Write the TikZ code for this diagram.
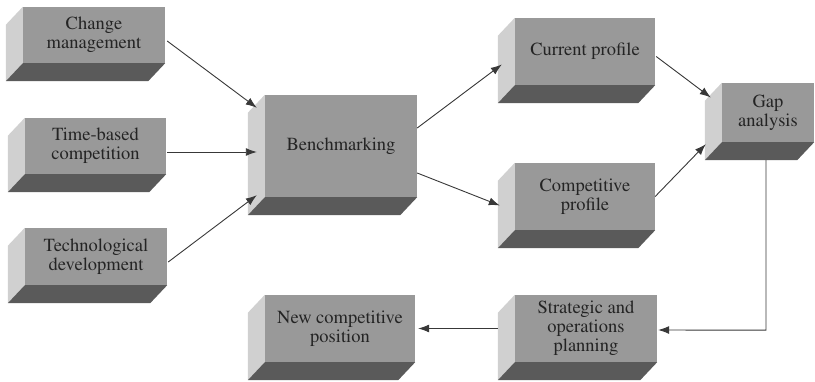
\documentclass[tikz,border=0pt]{standalone}
\usepackage[T1]{fontenc}
\usepackage{mathptmx}
\usetikzlibrary{arrows.meta,calc}

\definecolor{frontgray}{HTML}{999999}
\definecolor{sidegray}{HTML}{D0D0D0}
\definecolor{basegray}{HTML}{5A5A5A}
\definecolor{inkgray}{HTML}{242424}
\definecolor{linegray}{HTML}{383838}

% depth of the extruded block faces (towards lower left)
\newcommand\dpx{-17}
\newcommand\dpy{18}

% side and base faces of a block whose front face is node #1
\newcommand\extrudeblock[1]{%
  \fill[sidegray] (#1.north west) -- ($(#1.north west)+(\dpx,\dpy)$)
    -- ($(#1.south west)+(\dpx,\dpy)$) -- (#1.south west) -- cycle;
  \fill[basegray] (#1.south west) -- (#1.south east)
    -- ($(#1.south east)+(\dpx,\dpy)$) -- ($(#1.south west)+(\dpx,\dpy)$) -- cycle;
}

\tikzset{
  face/.style={fill=frontgray, draw=none, inner sep=2pt, align=center,
    text=inkgray, font=\rmfamily\fontsize{18.5}{18.8}\selectfont},
  flow/.style={draw=linegray, line width=0.9pt,
    -{Latex[length=11pt,width=8pt]}},
}

\begin{document}
\begin{tikzpicture}[x=1pt,y=-1pt]
\useasboundingbox (0,0) rectangle (815,382);

% front faces
\node[face, minimum width=142pt, minimum height=56pt] (cm)    at (94,35)     {Change\\management};
\node[face, minimum width=141pt, minimum height=56pt] (tb)    at (95.5,146)  {Time-based\\competition};
\node[face, minimum width=142pt, minimum height=57pt] (td)    at (96,256.5)  {Technological\\development};
\node[face, minimum width=152pt, minimum height=102pt] (bench) at (341,146)  {Benchmarking};
\node[face, minimum width=140pt, minimum height=67pt] (cur)   at (585,51.5)  {Current profile};
\node[face, minimum width=140pt, minimum height=67pt] (comp)  at (585,196.5) {Competitive\\profile};
\node[face, minimum width=92pt,  minimum height=59pt] (gap)   at (768,112.5) {Gap\\analysis};
\node[face, minimum width=142pt, minimum height=67pt] (strat) at (586,328.5) {Strategic and\\operations\\planning};
\node[face, minimum width=150pt, minimum height=67pt] (newp)  at (340,328.5) {New competitive\\position};

% extruded faces
\foreach \b in {cm,tb,td,bench,cur,comp,gap,strat,newp}{\extrudeblock{\b}}

% connectors
\draw[flow] ($(cm.east)+(2,6)$) -- ($(bench.north west)+(-8,13)$);
\draw[flow] ($(tb.east)+(1,6)$) -- ($(bench.west)+(-8,6)$);
\draw[flow] ($(td.east)+(1,5.5)$) -- ($(bench.south west)+(-8,-2)$);
\draw[flow] ($(bench.east)+(0,-18)$) -- ($(cur.west)+(-13,13)$);
\draw[flow] ($(bench.east)+(0,27)$) -- ($(comp.west)+(-15,9)$);
\draw[flow] ($(cur.east)+(1,5)$) -- ($(gap.west)+(-11,-15)$);
\draw[flow] ($(comp.east)+(0,0)$) -- ($(gap.south west)+(-16,2)$);
\coordinate (turn) at ($(gap.south)+(-2,0)$);
\draw[flow] ($(gap.south)+(-2,18)$) -- ($(turn)+(0,188)$) -- ($(strat.east)+(1,1.5)$);
\draw[flow] ($(strat.west)+(-17,0)$) -- ($(newp.east)+(3,0)$);
\end{tikzpicture}
\end{document}
